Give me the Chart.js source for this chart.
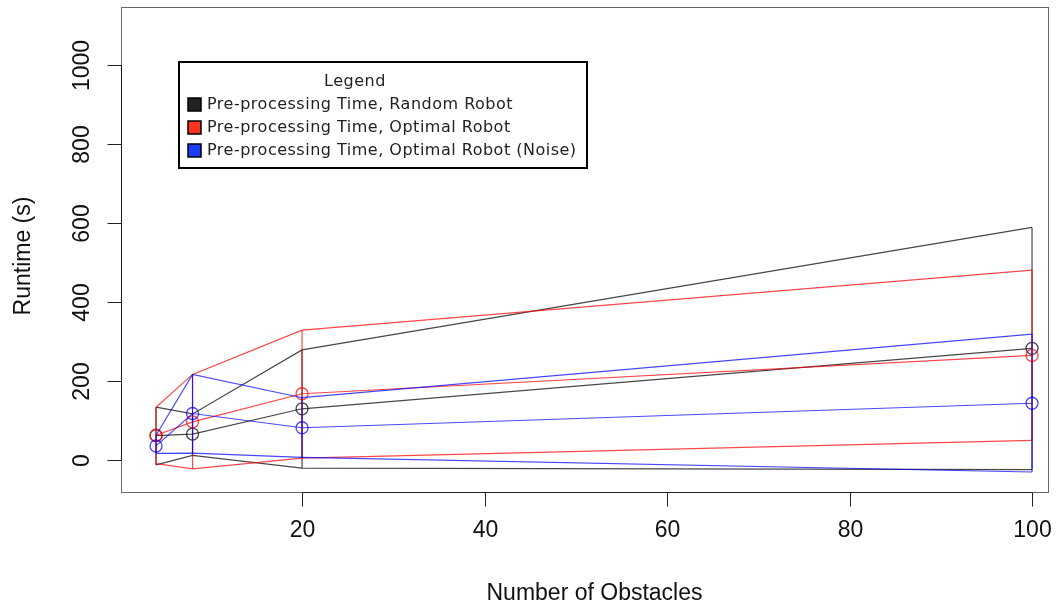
<!DOCTYPE html>
<html>
<head>
<meta charset="utf-8">
<script src="https://cdn.jsdelivr.net/npm/chart.js@4"></script>
<style>
  html, body { margin: 0; padding: 0; background: #fff; }
  #wrap { width: 1061px; height: 611px; position: relative; }
</style>
</head>
<body>
<div id="wrap"><canvas id="myChart"></canvas></div>
<script>
// number of obstacles (x)
const obstacles = [4, 8, 20, 100];

// pre-processing time, random robot
const randomMean  = [62, 66, 130, 283];
const randomUpper = [134, 117, 279, 589];
const randomLower = [-12, 12, -20, -24];

// pre-processing time, optimal robot
const optimalMean  = [63, 97, 168, 265];
const optimalUpper = [134, 217, 329, 481];
const optimalLower = [-9, -22, 5, 50];

// pre-processing time, optimal robot (noise)
const noiseMean  = [36, 118, 82, 144];
const noiseUpper = [63, 217, 158, 319];
const noiseLower = [17, 18, 7, -30];

const xTicks = [20, 40, 60, 80, 100];
const yTicks = [0, 200, 400, 600, 800, 1000];

const legendLabels = [
    'Pre-processing Time, Random Robot',
    'Pre-processing Time, Optimal Robot',
    'Pre-processing Time, Optimal Robot (Noise)'
];

const series = [
    { mean: randomMean,  upper: randomUpper,  lower: randomLower,  color: 'rgba(0,0,0,0.72)',   swatch: '#222222', order: 3 },
    { mean: optimalMean, upper: optimalUpper, lower: optimalLower, color: 'rgba(255,0,0,0.72)', swatch: '#ff3322', order: 2 },
    { mean: noiseMean,   upper: noiseUpper,   lower: noiseLower,   color: 'rgba(0,0,255,0.72)', swatch: '#1a3cff', order: 1 }
];

function pts(ys) {
    return obstacles.map((x, i) => ({ x: x, y: ys[i] }));
}

const datasets = [];
series.forEach(s => {
    const base = { showLine: true, borderColor: s.color, borderWidth: 1.2, order: s.order };
    datasets.push(Object.assign({}, base, { data: pts(s.upper), pointRadius: 0 }));
    datasets.push(Object.assign({}, base, { data: pts(s.lower), pointRadius: 0 }));
    datasets.push(Object.assign({}, base, {
        data: pts(s.mean),
        pointRadius: 6,
        pointBorderWidth: 1.3,
        pointBorderColor: s.color,
        pointBackgroundColor: 'rgba(0,0,0,0)'
    }));
    // vertical bars from lower to upper at each x
    const bars = [];
    obstacles.forEach((x, i) => {
        bars.push({ x: x, y: s.lower[i] }, { x: x, y: s.upper[i] }, { x: x, y: null });
    });
    datasets.push(Object.assign({}, base, { data: bars, pointRadius: 0, spanGaps: false }));
});

// R style box, axes and legend
const rFrame = {
    id: 'rFrame',
    afterDraw(chart) {
        const ctx = chart.ctx;
        const a = chart.chartArea;
        const xs = chart.scales.x, ys = chart.scales.y;
        ctx.save();

        ctx.strokeStyle = '#666';
        ctx.lineWidth = 1;
        ctx.strokeRect(Math.round(a.left) + 0.5, Math.round(a.top) + 0.5,
            Math.round(a.right - a.left), Math.round(a.bottom - a.top));

        ctx.strokeStyle = '#222';
        ctx.fillStyle = '#111';
        ctx.font = '23px "Liberation Sans", Arial, sans-serif';

        // x axis
        const by = Math.round(a.bottom) + 0.5;
        ctx.beginPath();
        ctx.moveTo(xs.getPixelForValue(xTicks[0]), by);
        ctx.lineTo(xs.getPixelForValue(xTicks[xTicks.length - 1]), by);
        ctx.stroke();
        ctx.textAlign = 'center';
        ctx.textBaseline = 'middle';
        xTicks.forEach(v => {
            const px = Math.round(xs.getPixelForValue(v)) + 0.5;
            ctx.beginPath();
            ctx.moveTo(px, by);
            ctx.lineTo(px, by + 14);
            ctx.stroke();
            ctx.fillText(String(v), px, a.bottom + 39);
        });
        ctx.fillText('Number of Obstacles', (a.left + a.right) / 2 + 10, a.bottom + 102);

        // y axis
        const lx = Math.round(a.left) + 0.5;
        ctx.beginPath();
        ctx.moveTo(lx, ys.getPixelForValue(yTicks[0]));
        ctx.lineTo(lx, ys.getPixelForValue(yTicks[yTicks.length - 1]));
        ctx.stroke();
        yTicks.forEach(v => {
            const py = Math.round(ys.getPixelForValue(v)) + 0.5;
            ctx.beginPath();
            ctx.moveTo(lx, py);
            ctx.lineTo(lx - 14, py);
            ctx.stroke();
            ctx.save();
            ctx.translate(a.left - 38, py);
            ctx.rotate(-Math.PI / 2);
            ctx.fillText(String(v), 0, 0);
            ctx.restore();
        });
        ctx.save();
        ctx.translate(24, 256);
        ctx.rotate(-Math.PI / 2);
        ctx.fillText('Runtime (s)', 0, 0);
        ctx.restore();

        // legend
        ctx.lineWidth = 2;
        ctx.strokeStyle = '#000';
        ctx.strokeRect(179, 62, 408, 106);
        ctx.font = '16px "DejaVu Sans", sans-serif';
        ctx.letterSpacing = '0.5px';
        ctx.fillStyle = '#222';
        ctx.textAlign = 'center';
        ctx.fillText('Legend', 355, 82);
        ctx.textAlign = 'left';
        legendLabels.forEach((lab, i) => {
            const cy = 105 + i * 23;
            ctx.fillStyle = series[i].swatch;
            ctx.fillRect(188, cy - 7, 13, 13);
            ctx.lineWidth = 1.5;
            ctx.strokeStyle = '#000';
            ctx.strokeRect(188, cy - 7, 13, 13);
            ctx.fillStyle = '#222';
            ctx.fillText(lab, 207, cy);
        });
        ctx.restore();
    }
};

const ctx = document.getElementById('myChart').getContext('2d');
const myChart = new Chart(ctx, {
    type: 'scatter',
    data: { datasets: datasets },
    options: {
        responsive: true,
        maintainAspectRatio: false,
        animation: false,
        layout: { padding: { left: 121, top: 5, right: 13, bottom: 119 } },
        scales: {
            x: { type: 'linear', min: 0.16, max: 101.75, display: false },
            y: { type: 'linear', min: -80.6, max: 1146, display: false }
        },
        plugins: {
            legend: { display: false },
            tooltip: { enabled: false }
        }
    },
    plugins: [rFrame]
});
</script>
</body>
</html>
